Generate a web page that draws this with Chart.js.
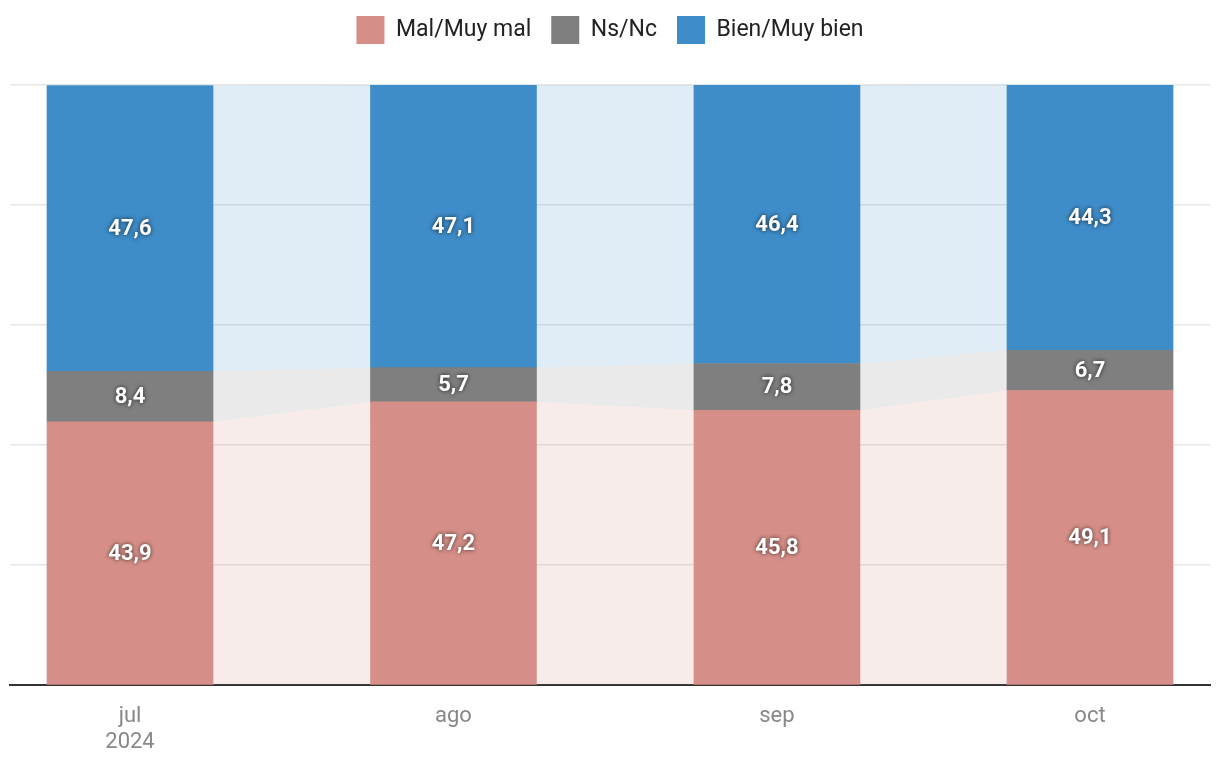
<!DOCTYPE html>
<html>
<head>
<meta charset="utf-8">
<script src="https://cdn.jsdelivr.net/npm/chart.js@4/dist/chart.umd.min.js"></script>
<style>
  html, body { margin: 0; padding: 0; background: #fff; }
  #wrap { width: 1220px; height: 778px; }
</style>
</head>
<body>
<div id="wrap"><canvas id="grafica"></canvas></div>
<script>
const fechas = ['2024-07-01', '2024-08-01', '2024-09-01', '2024-10-01'];
const etiquetasX = [['jul', '2024'], 'ago', 'sep', 'oct'];
const malMuyMal = [43.9, 47.2, 45.8, 49.1];
const nsNc = [8.4, 5.7, 7.8, 6.7];
const bienMuyBien = [47.6, 47.1, 46.4, 44.3];

const DIA = 86400000;
const inicio = new Date(fechas[0]).getTime();
const dias = fechas.map(f => (new Date(f).getTime() - inicio) / DIA);

function puntos(valores) {
    return valores.map((v, i) => ({ x: dias[i], y: v }));
}

function formato(v) {
    return v.toFixed(1).replace('.', ',');
}

// bandas claras que unen las barras
const bandas = {
    id: 'bandas',
    beforeDatasetsDraw(chart) {
        const ctx = chart.ctx;
        const colores = ['rgba(214,143,136,0.17)', 'rgba(127,127,127,0.16)', 'rgba(62,140,200,0.16)'];
        chart.data.datasets.forEach((ds, d) => {
            const meta = chart.getDatasetMeta(d);
            for (let i = 0; i < meta.data.length - 1; i++) {
                const a = meta.data[i], b = meta.data[i + 1];
                const x1 = a.x + a.width / 2, x2 = b.x - b.width / 2;
                ctx.save();
                ctx.fillStyle = colores[d];
                ctx.beginPath();
                ctx.moveTo(x1, a.y);
                ctx.lineTo(x2, b.y);
                ctx.lineTo(x2, b.base);
                ctx.lineTo(x1, a.base);
                ctx.closePath();
                ctx.fill();
                ctx.restore();
            }
        });
    }
};

const etiquetas = {
    id: 'etiquetas',
    afterDatasetsDraw(chart) {
        const ctx = chart.ctx;
        ctx.save();
        ctx.font = 'bold 22px Roboto, "DejaVu Sans", sans-serif';
        ctx.textAlign = 'center';
        ctx.textBaseline = 'middle';
        ctx.fillStyle = '#ffffff';
        ctx.shadowColor = 'rgba(0,0,0,0.75)';
        ctx.shadowBlur = 4;
        chart.data.datasets.forEach((ds, d) => {
            const meta = chart.getDatasetMeta(d);
            meta.data.forEach((bar, i) => {
                ctx.fillText(formato(ds.data[i].y), bar.x, (bar.y + bar.base) / 2 + 1);
            });
        });
        ctx.restore();
    }
};

// más espacio bajo la leyenda
const espacioLeyenda = {
    id: 'espacioLeyenda',
    beforeInit(chart) {
        const fitOriginal = chart.legend.fit;
        chart.legend.fit = function () {
            fitOriginal.bind(chart.legend)();
            this.height += 31;
        };
    }
};

const margen = 11.5;

new Chart(document.getElementById('grafica'), {
    type: 'bar',
    data: {
        datasets: [
            { label: 'Mal/Muy mal', data: puntos(malMuyMal), backgroundColor: '#d68f88' },
            { label: 'Ns/Nc', data: puntos(nsNc), backgroundColor: '#7f7f7f' },
            { label: 'Bien/Muy bien', data: puntos(bienMuyBien), backgroundColor: '#3e8cc8' }
        ]
    },
    options: {
        responsive: true,
        maintainAspectRatio: false,
        animation: false,
        barThickness: 166,
        layout: { padding: { left: 10, right: 10, top: -4, bottom: 12 } },
        plugins: {
            tooltip: { enabled: false },
            legend: {
                position: 'top',
                labels: {
                    boxWidth: 28,
                    boxHeight: 28,
                    padding: 20,
                    color: '#222',
                    font: { family: 'Roboto, "DejaVu Sans", sans-serif', size: 23 }
                }
            }
        },
        scales: {
            x: {
                type: 'linear',
                stacked: true,
                offset: false,
                min: dias[0] - margen,
                max: dias[dias.length - 1] + margen,
                afterBuildTicks(axis) {
                    axis.ticks = dias.map(v => ({ value: v }));
                },
                grid: { display: false },
                border: { display: true, color: '#333', width: 2 },
                ticks: {
                    autoSkip: false,
                    maxRotation: 0,
                    padding: 10,
                    color: '#888',
                    font: { family: 'Roboto, "DejaVu Sans", sans-serif', size: 22 },
                    callback(value) {
                        const i = dias.indexOf(value);
                        return i >= 0 ? etiquetasX[i] : '';
                    }
                }
            },
            y: {
                stacked: true,
                min: 0,
                max: 100,
                afterFit(axis) { axis.width = 0; },
                border: { display: false },
                grid: { color: '#e6e6e6', lineWidth: 1.5, drawTicks: false },
                ticks: { display: false, stepSize: 20 }
            }
        }
    },
    plugins: [bandas, etiquetas, espacioLeyenda]
});
</script>
</body>
</html>
